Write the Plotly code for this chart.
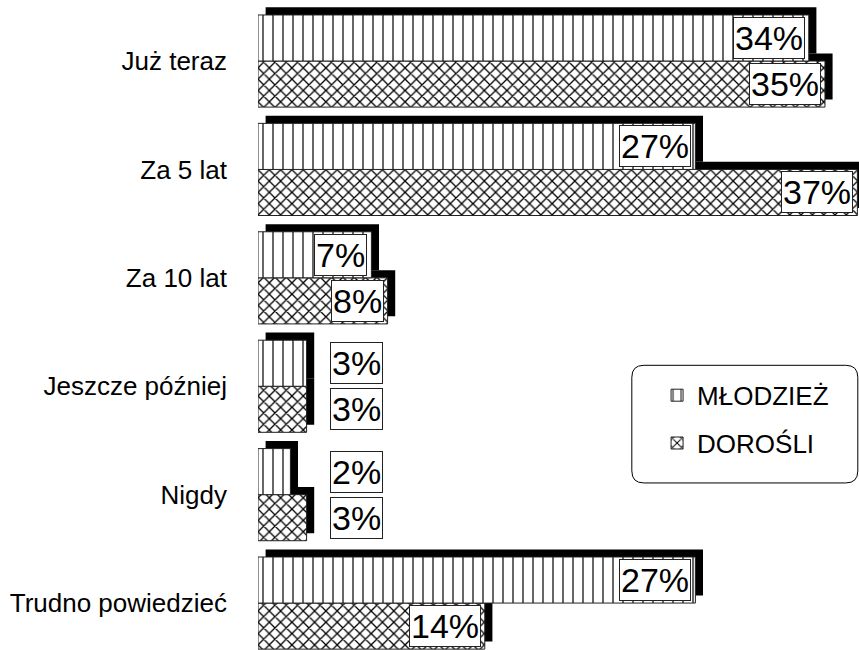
import plotly.graph_objects as go

# ==========================================
# DANE
# ==========================================

kategorie = ["Już teraz", "Za 5 lat", "Za 10 lat", "Jeszcze później", "Nigdy", "Trudno powiedzieć"]
mlodziez = [34, 27, 7, 3, 2, 27]
dorosli = [35, 37, 8, 3, 3, 14]
serie = ["MŁODZIEŻ", "DOROŚLI"]

FONT = "Liberation Sans, Arial, sans-serif"
W = 0.425      # grubość słupka (jednostki kategorii)
DY = 0.07      # przesunięcie cienia w pionie
DX = 0.47      # przesunięcie cienia w poziomie


def _cien(wartosci, offset):
    return go.Bar(
        y=kategorie,
        x=wartosci,
        base=DX,
        orientation="h",
        width=W,
        offset=offset - DY,
        marker=dict(color="black", line=dict(width=0)),
        showlegend=False,
        hoverinfo="skip"
    )


def _slupek(wartosci, nazwa, ksztalt, rozmiar, gestosc, offset, ranga):
    return go.Bar(
        y=kategorie,
        x=wartosci,
        name=nazwa,
        legendgroup=nazwa,
        legendrank=ranga,
        orientation="h",
        width=W,
        offset=offset,
        marker=dict(
            color="white",
            line=dict(color="#222222", width=1),
            pattern=dict(shape=ksztalt, fgcolor="black", bgcolor="white",
                         size=rozmiar, solidity=gestosc, fillmode="replace")
        )
    )


fig = go.Figure()

fig.add_trace(_cien(mlodziez, -W))
fig.add_trace(_cien(dorosli, 0))
fig.add_trace(_slupek(dorosli, serie[1], "x", 8, 0.3, 0, 2))
fig.add_trace(_slupek(mlodziez, serie[0], "|", 10, 0.12, -W, 1))

# etykiety w ramkach
for i, (m, d) in enumerate(zip(mlodziez, dorosli)):
    for v, yy in ((m, i - W / 2), (d, i + W / 2)):
        if v >= 5:
            pos = dict(x=v, xanchor="right", xshift=-4)
        else:
            pos = dict(x=4.45, xanchor="left")
        fig.add_annotation(
            y=yy, text=f"{v}%", showarrow=False, yanchor="middle",
            font=dict(family=FONT, size=34, color="black"),
            bgcolor="white", bordercolor="#222222", borderwidth=1, borderpad=1,
            **pos
        )

# ramka legendy z zaokrąglonymi rogami
x0, x1, y0, y1, rx, ry = 0.622, 0.998, 0.257, 0.438, 0.02, 0.0185
fig.add_shape(
    type="path", xref="paper", yref="paper",
    path=(f"M{x0+rx},{y1} L{x1-rx},{y1} Q{x1},{y1} {x1},{y1-ry} "
          f"L{x1},{y0+ry} Q{x1},{y0} {x1-rx},{y0} L{x0+rx},{y0} "
          f"Q{x0},{y0} {x0},{y0+ry} L{x0},{y1-ry} Q{x0},{y1} {x0+rx},{y1} Z"),
    line=dict(color="black", width=1), fillcolor="white", layer="below"
)

fig.update_layout(
    width=859,
    height=650,
    barmode="overlay",
    plot_bgcolor="white",
    paper_bgcolor="white",
    margin=dict(l=258, r=0, t=0, b=0, autoexpand=False),
    font=dict(family=FONT, color="black"),
    legend=dict(
        x=0.664, y=0.428, xanchor="left", yanchor="top",
        font=dict(size=26), bgcolor="rgba(0,0,0,0)",
        traceorder="grouped", tracegroupgap=11, itemwidth=30
    )
)

fig.update_xaxes(range=[0, 37.1], visible=False, showgrid=False, automargin=False)

fig.update_yaxes(
    range=[5.433, -0.563],
    automargin=False,
    showgrid=False,
    showline=False,
    zeroline=False,
    ticks="",
    ticklabelstandoff=30,
    tickfont=dict(size=26, family=FONT, color="black")
)

fig.write_html("out.html", config={"displayModeBar": False},
               post_script="document.body.style.margin='0';")
